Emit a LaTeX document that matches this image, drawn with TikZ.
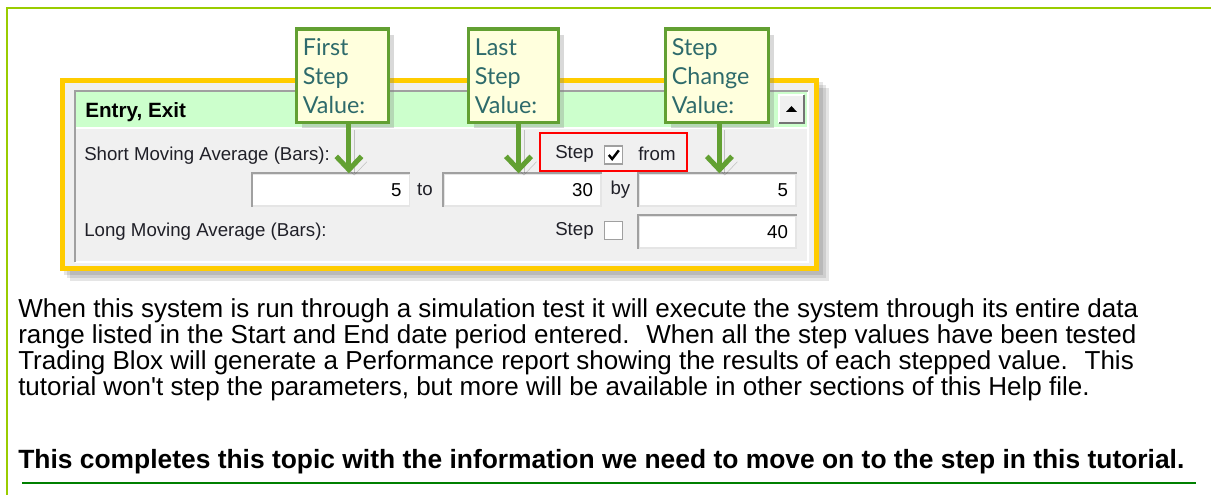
\documentclass[tikz,border=0pt]{standalone}
\usepackage{fontspec}
\setmainfont{Liberation Sans}
\newfontfamily\calloutfont{Lato}
\usepackage{tikz}
\usetikzlibrary{arrows.meta, positioning, shadows}

\definecolor{framegreen}{HTML}{99CC00}
\definecolor{rulegreen}{HTML}{008000}
\definecolor{dialoggold}{HTML}{FFCC00}
\definecolor{panelgray}{HTML}{F0F0F0}
\definecolor{headergreen}{HTML}{CCFFCC}
\definecolor{edgegray}{HTML}{A0A0A0}
\definecolor{calloutgreen}{HTML}{62A032}
\definecolor{calloutfill}{HTML}{FFFFDD}
\definecolor{calloutteal}{HTML}{2E6B6B}
\definecolor{labeltext}{HTML}{202028}

\begin{document}
\begin{tikzpicture}[
    x=0.75pt, y=-0.75pt,
    lbl/.style={inner sep=0pt, text=labeltext, font=\fontsize{14}{16}\selectfont},
    field/.style={draw=black!10, fill=white, line width=1pt, minimum width=117.75pt, minimum height=24pt,
        text width=105.75pt, inner xsep=6pt, align=right, font=\fontsize{14}{16}\selectfont},
    sunken/.style={draw=edgegray, line width=1.5pt},
    tickbox/.style={draw=edgegray, fill=white, line width=1pt, minimum size=13.5pt, inner sep=0pt},
    callout/.style={draw=calloutgreen, line width=2.6pt, fill=calloutfill, minimum height=70pt, anchor=north west,
        align=left, inner xsep=5pt, text=calloutteal, font=\calloutfont\fontsize{17.5}{21.75}\selectfont,
        drop shadow={shadow xshift=4pt, shadow yshift=-4pt, opacity=.3}},
    pointer/.style={draw=calloutgreen, line width=3.75pt, -{Straight Barb[length=10pt, width=19pt]},
        preaction={draw=black, opacity=.2, transform canvas={xshift=4pt, yshift=-4pt}}},
    body/.style={anchor=base west, inner sep=0pt, font=\fontsize{19.5}{19.5}\selectfont},
]
\useasboundingbox (0,0) rectangle (1211,495);

% page frame
\draw[framegreen, line width=1.5pt] (1211,8) -- (7,8) -- (7,495);

% dialog panel
\foreach \s in {4,7,10}
    \fill[black, opacity=.1] (60+\s,78+\s) rectangle (819+\s,271+\s);
\draw[dialoggold, line width=3.75pt, fill=panelgray] (62.5,80.5) rectangle (816.5,268.5);
\fill[headergreen] (76,92) rectangle (807,127);
\draw[white, line width=1.5pt] (76,128) -- (807,128);
\draw[white, line width=1.5pt] (808,91) -- (808,262) -- (75,262);
\draw[edgegray, line width=1.5pt] (75,262) -- (75,91) -- (808,91);

\node[anchor=west, inner sep=0pt, font=\bfseries\fontsize{15.5}{18}\selectfont] (head) at (85,112) {Entry, Exit};
\node[fill=panelgray, minimum width=18.75pt, minimum height=21pt] (collapse) at (791.5,109) {};
\draw[white, line width=1.2pt] (collapse.south west) -- (collapse.north west) -- (collapse.north east);
\draw[black!55, line width=1.5pt] (collapse.north east) -- (collapse.south east) -- (collapse.south west);
\fill (786,112) -- (797,112) -- (791.5,106) -- cycle;

\node[lbl, anchor=west] (shortlbl) at (84,156) {Short Moving Average (Bars):};
\node[lbl, anchor=west] (longlbl) at (84,232) {Long Moving Average (Bars):};

\node[field] (first) at (331,190) {5};
\node[lbl, right=5pt of first] (to) {to};
\node[field] (last) at (522.5,190) {30};
\node[lbl, right=6.5pt of last] (by) {by};
\node[field] (change) at (717.5,190) {5};
\node[field] (longval) at (717.5,232) {40};
\foreach \f in {first,last,change,longval}
    \draw[sunken] (\f.south west) -- (\f.north west) -- (\f.north east);

% step check boxes
\node[draw=red, line width=2pt, minimum width=110.25pt, minimum height=28.5pt] (stepmark) at (613.5,152) {};
\node[lbl, anchor=west] (stepa) at (555,154) {Step};
\node[tickbox] (ticka) at (613.5,155) {};
\draw[line width=1.8pt] ([xshift=-3.5pt]ticka.center) -- ([xshift=-1pt,yshift=-3pt]ticka.center) -- ([xshift=4pt,yshift=3.5pt]ticka.center);
\node[lbl, anchor=west] (from) at (638,154) {from};
\node[lbl, anchor=west] (stepb) at (555,231) {Step};
\node[tickbox] (tickb) at (613.5,230.5) {};

% callouts
\node[callout, text width=59pt] (firstnote) at (294.5,27.5) {First\\Step\\Value:};
\node[callout, text width=57.5pt] (lastnote) at (466.5,27.5) {Last\\Step\\Value:};
\node[callout, text width=67.25pt] (changenote) at (663.5,27.5) {Step\\Change\\Value:};

\draw[pointer] ([xshift=5pt]firstnote.south) -- ([xshift=5pt]firstnote.south |- first.north);
\draw[pointer] ([xshift=4pt]lastnote.south) -- ([xshift=4pt]lastnote.south |- last.north);
\draw[pointer] ([xshift=2pt]changenote.south) -- ([xshift=2pt]changenote.south |- change.north);

% text below
\node[body] (para1) at (18,318) {When this system is run through a simulation test it will execute the system through its entire data};
\node[body] (para2) at (18,344) {range listed in the Start and End date period entered.~ When all the step values have been tested};
\node[body] (para3) at (18,370) {Trading Blox will generate a Performance report showing the results of each stepped value.~ This};
\node[body] (para4) at (18,396) {tutorial won\textquotesingle t step the parameters, but more will be available in other sections of this Help file.};
\node[body, font=\bfseries\fontsize{19.8}{19.8}\selectfont] (closing) at (18,469) {This completes this topic with the information we need to move on to the step in this tutorial.};

\draw[rulegreen, line width=1.5pt] (22,483) -- (1196,483);

\end{tikzpicture}
\end{document}
